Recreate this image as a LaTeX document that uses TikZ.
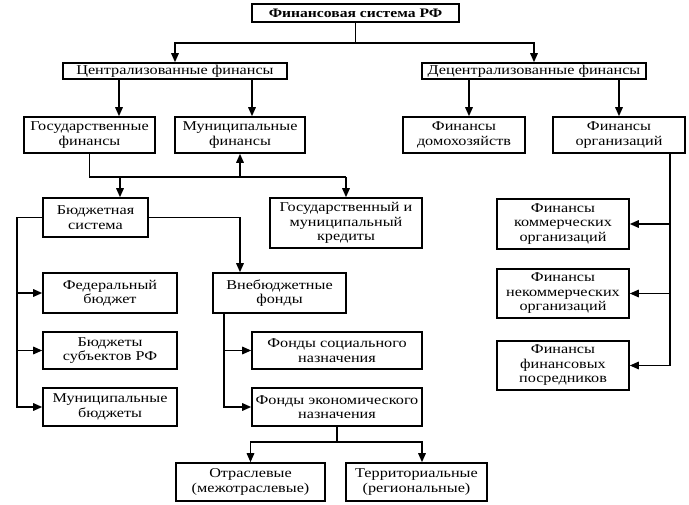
\documentclass[tikz,border=0pt]{standalone}
\usepackage{fontspec}
\setmainfont[FakeStretch=1.2]{Liberation Serif}
\usetikzlibrary{arrows.meta}

\begin{document}
\begin{tikzpicture}[x=1pt,y=-1pt,
      box/.style={draw,line width=1.6pt,inner sep=0pt,align=center,
        font=\fontsize{13.5}{14.5}\selectfont},
      arr/.style={line width=1.6pt,-{Triangle[length=9pt,width=7.5pt]}},
      lin/.style={line width=1.6pt}]
      \useasboundingbox (0,0) rectangle (689,505) ;
      % top levels
      \node[box,minimum width=207pt,minimum height=18pt,font=\fontsize{13}{14}\selectfont\bfseries] %
      (rf) at (355.5,13) {Финансовая система РФ} ;
      \node[box,minimum width=224pt,minimum height=16pt] (cent) at (175,71) {Централизованные финансы} ;
      \node[box,minimum width=224pt,minimum height=16pt] (decent) at (534,71) {Децентрализованные финансы} ;
      \node[box,minimum width=131pt,minimum height=36pt] (gos) at (89.5,135) {Государственные\\финансы} ;
      \node[box,minimum width=130pt,minimum height=36pt] (mun) at (240,135) {Муниципальные\\финансы} ;
      \node[box,minimum width=122pt,minimum height=36pt] (house) at (464,135) {Финансы\\домохозяйств} ;
      \node[box,minimum width=132pt,minimum height=36pt] (org) at (619,135) {Финансы\\организаций} ;
      % left branch
      \node[box,minimum width=105pt,minimum height=39pt] (budget) at (95.5,217.5) {Бюджетная\\система} ;
      \node[box,minimum width=152pt,minimum height=50pt] (credit) at (346,223) {Государственный и\\муниципальный\\кредиты} ;
      \node[box,minimum width=134pt,minimum height=40pt] (fed) at (110,293) {Федеральный\\бюджет} ;
      \node[box,minimum width=134pt,minimum height=37pt] (subj) at (110,350.5) {Бюджеты\\субъектов РФ} ;
      \node[box,minimum width=134pt,minimum height=38pt] (munb) at (110,407) {Муниципальные\\бюджеты} ;
      \node[box,minimum width=133pt,minimum height=40pt] (vneb) at (279.5,293) {Внебюджетные\\фонды} ;
      \node[box,minimum width=170pt,minimum height=37pt] (soc) at (337,350.5) {Фонды социального\\назначения} ;
      \node[box,minimum width=170pt,minimum height=38pt] (econ) at (337,407) {Фонды экономического\\назначения} ;
      \node[box,minimum width=149pt,minimum height=38pt] (branch) at (250.5,482) {Отраслевые\\(межотраслевые)} ;
      \node[box,minimum width=141pt,minimum height=38pt] (terr) at (416.5,482) {Территориальные\\(региональные)} ;
      % right branch
      \node[box,minimum width=132pt,minimum height=50pt] (comm) at (563,224) {Финансы\\коммерческих\\организаций} ;
      \node[box,minimum width=132pt,minimum height=49pt] (ncomm) at (563,293.5) {Финансы\\некоммерческих\\организаций} ;
      \node[box,minimum width=132pt,minimum height=49pt] (interm) at (563,365.5) {Финансы\\финансовых\\посредников} ;
      % connectors
      \draw[arr] (rf.south) -- ++(0,20) -| (cent.north) ;
      \draw[arr] (rf.south) -- ++(0,20) -| (decent.north) ;
      \draw[arr] ([xshift=29.5pt]gos.north |- cent.south) -- ([xshift=29.5pt]gos.north) ;
      \draw[arr] ([xshift=12pt]mun.north |- cent.south) -- ([xshift=12pt]mun.north) ;
      \draw[arr] ([xshift=5pt]house.north |- decent.south) -- ([xshift=5pt]house.north) ;
      \draw[arr] (org.north |- decent.south) -- (org.north) ;
      \coordinate (j) at (0,177) ;
      \draw[lin] (gos.south) |- (credit.north |- j) ;
      \draw[arr] (credit.north |- j) -- (credit.north) ;
      \draw[arr] (mun.south |- j) -- (mun.south) ;
      \draw[arr] ([xshift=24.5pt]budget.north |- j) -- ([xshift=24.5pt]budget.north) ;
      \draw[arr] (budget.west) -| ([xshift=-25pt]munb.west) -- (munb.west) ;
      \draw[arr] ([xshift=-25pt]subj.west) -- (subj.west) ;
      \draw[arr] ([xshift=-25pt]fed.west) -- (fed.west) ;
      \draw[arr] (budget.east) -| ([xshift=-39.5pt]vneb.north) ;
      \draw[arr] ([xshift=-27pt]econ.west |- vneb.south) |- (econ.west) ;
      \draw[arr] ([xshift=-27pt]soc.west) -- (soc.west) ;
      \draw[arr] (econ.south) -- ++(0,15) -| (branch.north) ;
      \draw[arr] (econ.south) -- ++(0,15) -| ([xshift=5.5pt]terr.north) ;
      \draw[arr] ([xshift=51pt]org.south) |- (interm.east) ;
      \draw[arr] ([xshift=51pt]org.south |- ncomm.east) -- (ncomm.east) ;
      \draw[arr] ([xshift=51pt]org.south |- comm.east) -- (comm.east) ;
    \end{tikzpicture}
\end{document}
